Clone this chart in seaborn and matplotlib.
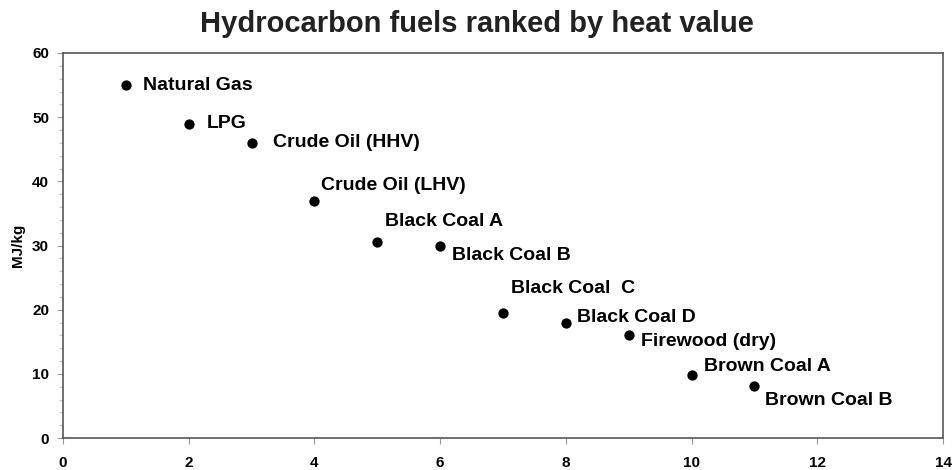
import pandas as pd
import numpy as np
import matplotlib.pyplot as plt
import seaborn as sns
from matplotlib.ticker import MultipleLocator

# ------------------------------
# Data
# ------------------------------
fuels = ["Natural Gas", "LPG", "Crude Oil (HHV)", "Crude Oil (LHV)",
         "Black Coal A", "Black Coal B", "Black Coal  C", "Black Coal D",
         "Firewood (dry)", "Brown Coal A", "Brown Coal B"]
rank = [1, 2, 3, 4, 5, 6, 7, 8, 9, 10, 11]
heat_mj_kg = [55, 49, 46, 37, 30.5, 30, 19.5, 18, 16, 9.8, 8.1]

# label offsets in pixels (dx, dy)
label_dx = [17, 18, 21, 7, 8, 12, 8, 11, 12, 12, 11]
label_dy = [0, 0, 0, 15, 21, -10, 24, 5, -6, 9, -14]

df = pd.DataFrame({"rank": rank, "heat": heat_mj_kg, "fuel": fuels})

sns.set_style("white")
plt.rcParams["font.family"] = ["Liberation Sans", "DejaVu Sans"]
plt.rcParams["font.weight"] = "bold"

fig = plt.figure(figsize=(9.53, 4.70), dpi=100)
ax = fig.add_axes([63 / 953, 1 - 438 / 470, 880 / 953, 385 / 470])

sns.scatterplot(data=df, x="rank", y="heat", ax=ax, color="black",
                s=55, edgecolor="black", linewidth=0, zorder=3)

for i, row in df.iterrows():
    ax.annotate(row["fuel"], (row["rank"], row["heat"]),
                xytext=(label_dx[i], label_dy[i]), textcoords="offset pixels",
                ha="left", va="center", fontsize=14, fontweight="bold",
                color="black")

ax.set_xlim(0, 14)
ax.set_ylim(0, 60)
ax.xaxis.set_major_locator(MultipleLocator(2))
ax.yaxis.set_major_locator(MultipleLocator(10))
ax.yaxis.set_minor_locator(MultipleLocator(2))
ax.tick_params(axis="both", which="major", direction="out", length=4,
               color="#999999", labelsize=11, labelcolor="black")
ax.tick_params(axis="y", which="minor", direction="out", length=3,
               color="#bbbbbb", left=True)
ax.tick_params(axis="x", pad=9)
ax.tick_params(axis="y", pad=6)
ax.tick_params(bottom=True, left=True)
for lab in ax.get_xticklabels() + ax.get_yticklabels():
    lab.set_fontweight("bold")

for side in ["top", "right", "bottom", "left"]:
    ax.spines[side].set_color("#555555")
    ax.spines[side].set_linewidth(1.2)

ax.set_xlabel("")
ax.set_ylabel("MJ/kg", fontsize=11, fontweight="bold", labelpad=5,
              color="black")

fig.suptitle("Hydrocarbon fuels ranked by heat value", x=0.5, y=0.978,
             fontsize=21, fontweight="bold", color="#222222")

fig.savefig("out.png", dpi=100)
